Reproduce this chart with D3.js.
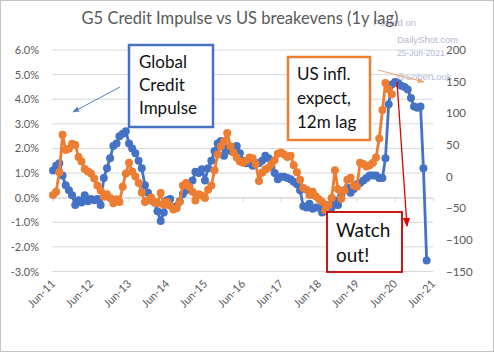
<!DOCTYPE html>
<html>
<head>
<meta charset="utf-8">
<script src="https://cdn.jsdelivr.net/npm/d3@7"></script>
<style>
  body { margin: 0; background: #fff; }
  svg { display: block; font-family: Lato, "Open Sans", sans-serif; }
</style>
</head>
<body>
<div id="chart"></div>
<script>
// monthly values starting Jun-11
const startMonth = new Date(2011, 5, 1);

// G5 credit impulse, % (left axis)
const creditImpulse = [
  1.1, 1.3, 1.4, 0.9, 0.5, 0.3, 0.1, -0.3, -0.1, -0.2, 0.1, -0.15, -0.05, -0.1, -0.05, -0.3,
  0.8, 1.2, 1.6, 2.1, 2.2, 2.5, 2.6, 2.7, 2.2, 2.0, 1.8, 1.5, 1.2, 0.5, 0.2, -0.1,
  -0.2, -0.55, -0.95, -0.6, -0.1, -0.05, -0.4, -0.35, -0.15, 0.15, 0.3, 0.45, 0.7, 1.05, 1.0, 1.15,
  0.7, 1.2, 1.5, 1.9, 2.2, 2.3, 1.7, 2.0, 1.9, 2.0, 2.1, 1.8, 1.5, 1.4, 1.4, 1.3,
  1.4, 1.4, 1.5, 1.7, 1.6, 1.25, 1.0, 0.75, 0.85, 0.85, 0.8, 0.75, 0.65, 0.55, 0.3, -0.35,
  -0.4, -0.25, -0.45, -0.4, -0.4, -0.6, -0.55, -0.3, -0.4, -0.1, -0.3, 0.1, 0.3, 0.4, 0.2, 0.35,
  0.55, 0.6, 0.7, 0.8, 0.9, 0.9, 0.9, 0.8, 0.8, 1.6, 3.8, 4.6, 4.7, 4.65, 4.55, 4.5,
  4.4, 4.05, 3.7, 3.65, 3.7, 1.2, -2.55
];

// US inflation expectations, 12m lag, bps change (right axis)
const breakevens = [
  -29, -24, 7, 66, 42, 44, 52, 50, 31, 24, 12, 8, 5, -3, -14, -22,
  -32, -28, -34, -42, -36, -40, -16, 5, 22, 8, 0, -10, -25, -40, -38, -33,
  -40, -42, -26, -45, -40, -46, -52, -50, -40, -14, -10, -16, -24, -38, -28, -30,
  -34, -21, -14, 10, 35, 48, 56, 69, 48, 38, 30, 24, 22, 25, 30, 29,
  20, -7, 6, 11, 14, 20, 26, 36, 38, 35, 31, 33, 18, 7, -5, -18,
  -21, -29, -24, -31, -36, -40, -53, -45, -34, 10, -20, -35, -22, -5, -2, -14,
  -16, 22, 20, 16, 18, 22, 30, 60, 105, 148, 138, 130
];

const leftTicks = [6, 5, 4, 3, 2, 1, 0, -1, -2, -3];
const rightTicks = [200, 150, 100, 50, 0, -50, -100, -150];
const xTickLabels = ["Jun-11", "Jun-12", "Jun-13", "Jun-14", "Jun-15", "Jun-16",
  "Jun-17", "Jun-18", "Jun-19", "Jun-20", "Jun-21"];

const W = 494, H = 352;
const plot = { left: 52, right: 433, top: 50, bottom: 271.5 };
const blue = "#4472c4", orange = "#ed7d31", grey = "#595959";

const svg = d3.select("#chart").append("svg").attr("width", W).attr("height", H);

const defs = svg.append("defs");
[["arrBlue", "#5b7fc0"], ["arrOrange", "#f0a070"], ["arrRed", "#e00000"]].forEach(([id, c]) => {
  defs.append("marker").attr("id", id).attr("viewBox", "0 0 10 10")
    .attr("refX", 9).attr("refY", 5).attr("markerWidth", 7).attr("markerHeight", 7)
    .attr("orient", "auto")
    .append("path").attr("d", "M0,1 L10,5 L0,9 z").attr("fill", c);
});

// frame
svg.append("rect").attr("x", 0.5).attr("y", 0.5).attr("width", W - 1).attr("height", H - 1)
  .attr("fill", "none").attr("stroke", "#c4c4c4");

const x = d3.scaleTime()
  .domain([new Date(2011, 5, 1), new Date(2021, 5, 1)])
  .range([plot.left + 1, plot.right]);
const yL = d3.scaleLinear().domain([-3, 6]).range([plot.bottom, plot.top]);
const yR = d3.scaleLinear().domain([-150, 200]).range([plot.bottom, plot.top]);

const dateOf = i => d3.timeMonth.offset(startMonth, i);

// watermark
const wm = svg.append("g").attr("fill", "#b3b9d6").style("font-family", "'Liberation Sans', Arial, sans-serif").style("font-size", "9.5px");
wm.append("text").attr("x", 416).attr("y", 26).attr("text-anchor", "end").text("Posted on");
wm.append("text").attr("x", 397).attr("y", 43).text("DailyShot.com");
wm.append("text").attr("x", 397).attr("y", 56).style("font-size", "8.5px").text("25-Jun-2021");
wm.append("text").attr("x", 396).attr("y", 80).style("font-size", "9.5px").text("@SoberLook");

// title
svg.append("text").attr("x", 240).attr("y", 24).attr("text-anchor", "middle")
  .attr("fill", grey).style("font-size", "16.5px")
  .text("G5 Credit Impulse vs US breakevens (1y lag)");

// gridlines
svg.append("g").selectAll("line").data(leftTicks).join("line")
  .attr("x1", plot.left).attr("x2", plot.right)
  .attr("y1", d => yL(d)).attr("y2", d => yL(d))
  .attr("stroke", "#d9d9d9").attr("stroke-width", 1);

// category axis at zero
const xAxis = svg.append("g").attr("transform", `translate(0,${yL(0)})`)
  .call(d3.axisBottom(x).ticks(d3.timeYear.every(1)).tickSize(4).tickFormat(""));
xAxis.select(".domain").attr("stroke", "#d9d9d9");
xAxis.selectAll(".tick line").attr("stroke", "#d9d9d9");
xAxis.selectAll(".tick").attr("transform", (d, i) => `translate(${x(new Date(2011 + i, 5, 1))},0)`);

// x labels (bottom)
svg.append("g").selectAll("text").data(xTickLabels).join("text")
  .attr("transform", (d, i) => `translate(${x(new Date(2011 + i, 5, 1)) + 3},${plot.bottom + 13}) rotate(-45)`)
  .attr("text-anchor", "end").attr("fill", grey).style("font-size", "11px")
  .text(d => d);

// left axis
const axL = svg.append("g").attr("transform", `translate(${plot.left - 10},0)`)
  .call(d3.axisLeft(yL).tickValues(leftTicks).tickSize(0).tickFormat(d => d.toFixed(1) + "%"));
axL.select(".domain").remove();
axL.selectAll("text").attr("fill", grey).style("font-size", "11px").style("font-family", "Lato, sans-serif");

// right axis
const axR = svg.append("g").attr("transform", `translate(${plot.right + 10},0)`)
  .call(d3.axisRight(yR).tickValues(rightTicks).tickSize(0));
axR.select(".domain").remove();
axR.selectAll("text").attr("fill", grey).style("font-size", "11.5px").style("font-family", "Lato, sans-serif");

// series
function drawSeries(values, yScale, color) {
  const pts = values.map((v, i) => ({ d: dateOf(i), v }));
  const g = svg.append("g");
  g.append("path").datum(pts)
    .attr("fill", "none").attr("stroke", color).attr("stroke-width", 2.8)
    .attr("stroke-linejoin", "round")
    .attr("d", d3.line().x(p => x(p.d)).y(p => yScale(p.v)));
  g.selectAll("circle").data(pts).join("circle")
    .attr("cx", p => x(p.d)).attr("cy", p => yScale(p.v))
    .attr("r", 4).attr("fill", color);
}
drawSeries(creditImpulse, yL, blue);
drawSeries(breakevens, yR, orange);

// annotation boxes
function box(x0, y0, w, h, stroke, sw, lines, fs, tx, ty, lh) {
  svg.append("rect").attr("x", x0).attr("y", y0).attr("width", w).attr("height", h)
    .attr("fill", "#fff").attr("stroke", stroke).attr("stroke-width", sw);
  svg.append("g").selectAll("text").data(lines).join("text")
    .attr("x", tx).attr("y", (d, i) => ty + i * lh)
    .attr("fill", "#111").style("font-size", fs + "px").text(d => d);
}
box(129, 45, 84, 82, blue, 2.5, ["Global", "Credit", "Impulse"], 17, 139, 68, 23);
box(288, 57, 82, 83, orange, 2.5, ["US infl.", "expect,", "12m lag"], 17, 297, 80, 24);

// arrows
svg.append("line").attr("x1", 120).attr("y1", 87).attr("x2", 73).attr("y2", 112)
  .attr("stroke", "#5b7fc0").attr("stroke-width", 1).attr("marker-end", "url(#arrBlue)");
svg.append("line").attr("x1", 378).attr("y1", 70).attr("x2", 424).attr("y2", 82)
  .attr("stroke", "#f0a070").attr("stroke-width", 1).attr("marker-end", "url(#arrOrange)");
svg.append("line").attr("x1", 397).attr("y1", 82).attr("x2", 407).attr("y2", 226)
  .attr("stroke", "#e00000").attr("stroke-width", 1.3).attr("marker-end", "url(#arrRed)");

box(327, 212, 75, 60, "#c00000", 1.8, ["Watch", "out!"], 19, 336, 237, 25);
</script>
</body>
</html>
